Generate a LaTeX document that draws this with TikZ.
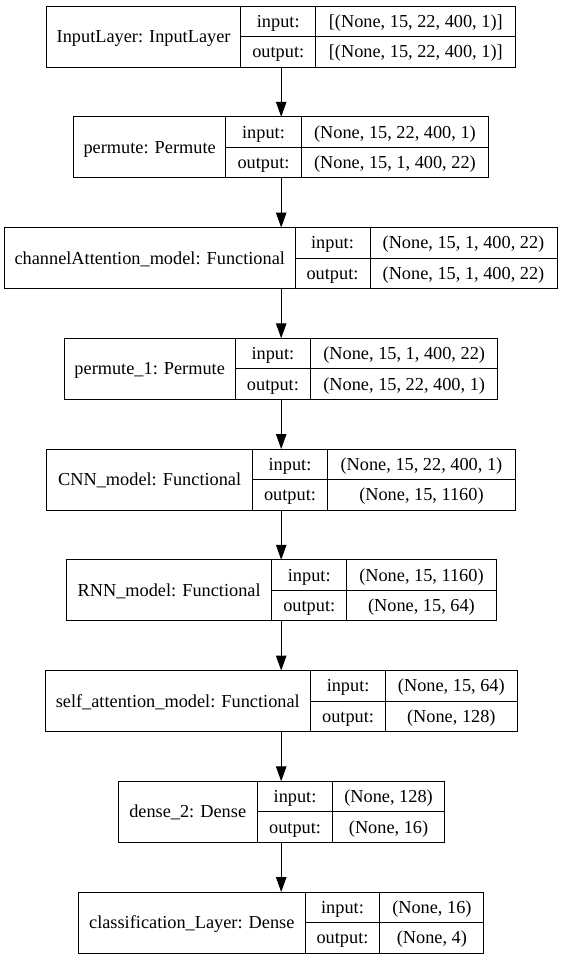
\documentclass[tikz,border=0pt]{standalone}
\usepackage{fontspec}
\setmainfont{Liberation Serif}
\usetikzlibrary{arrows.meta}
\tikzset{
  box/.style={draw, line width=1bp, inner sep=0pt, outer sep=0pt, anchor=north west, minimum height=61bp},
  cell/.style={draw=none, inner sep=0pt, anchor=base, font=\fontsize{18.3bp}{21bp}\selectfont},
  divider/.style={line width=1bp},
  arr/.style={line width=1bp, -{Triangle[length=15bp,width=10.5bp]}},
}
% name, top, x0, x1, x2, x3, label, input, output
\newcommand\klayer[9]{%
  \node[box, minimum width={(#6-#3)*1bp}] (#1) at (#3,#2) {};
  \draw[divider] (#4,#2) -- (#4,{#2+61});
  \draw[divider] (#5,#2) -- (#5,{#2+61});
  \draw[divider] (#4,{#2+30.5}) -- (#6,{#2+30.5});
  \node[cell] (#1-name) at ({(#3+#4)/2},{#2+36.5}) {#7};
  \node[cell] (#1-inl)  at ({(#4+#5)/2},{#2+21.3}) {input:};
  \node[cell] (#1-outl) at ({(#4+#5)/2},{#2+51.8}) {output:};
  \node[cell] (#1-in)   at ({(#5+#6)/2},{#2+21.3}) {#8};
  \node[cell] (#1-out)  at ({(#5+#6)/2},{#2+51.8}) {#9};
}
\begin{document}
\begin{tikzpicture}[x=1bp, y=-1bp]
  \useasboundingbox (0,0) rectangle (561,959);
  \fill[white] (0,0) rectangle (561,959);
  \coordinate (axis) at (281.2,0);
  \klayer{b1}{6}{46.5}{240.7}{315.8}{515.8}{InputLayer: InputLayer}{[(None, 15, 22, 400, 1)]}{[(None, 15, 22, 400, 1)]}
  \klayer{b2}{116.75}{73.4}{225.9}{301.1}{488.8}{permute: Permute}{(None, 15, 22, 400, 1)}{(None, 15, 1, 400, 22)}
  \klayer{b3}{227.5}{4.5}{295}{370}{557}{channelAttention\_model: Functional}{(None, 15, 1, 400, 22)}{(None, 15, 1, 400, 22)}
  \klayer{b4}{338.25}{64.1}{235.3}{310.5}{497.9}{permute\_1: Permute}{(None, 15, 1, 400, 22)}{(None, 15, 22, 400, 1)}
  \klayer{b5}{449}{46.8}{252.6}{327.4}{515.5}{CNN\_model: Functional}{(None, 15, 22, 400, 1)}{(None, 15, 1160)}
  \klayer{b6}{559.75}{66.6}{271.7}{346.8}{496.1}{RNN\_model: Functional}{(None, 15, 1160)}{(None, 15, 64)}
  \klayer{b7}{670.5}{45}{310.5}{385.7}{517}{self\_attention\_model: Functional}{(None, 15, 64)}{(None, 128)}
  \klayer{b8}{781.25}{118.1}{257.3}{332.8}{444.3}{dense\_2: Dense}{(None, 128)}{(None, 16)}
  \klayer{b9}{892}{78.5}{305.1}{379.9}{483.9}{classification\_Layer: Dense}{(None, 16)}{(None, 4)}
  \foreach \a/\b in {b1/b2, b2/b3, b3/b4, b4/b5, b5/b6, b6/b7, b7/b8, b8/b9}
    \draw[arr] (\a.south -| axis) -- (\b.north -| axis);
\end{tikzpicture}
\end{document}
